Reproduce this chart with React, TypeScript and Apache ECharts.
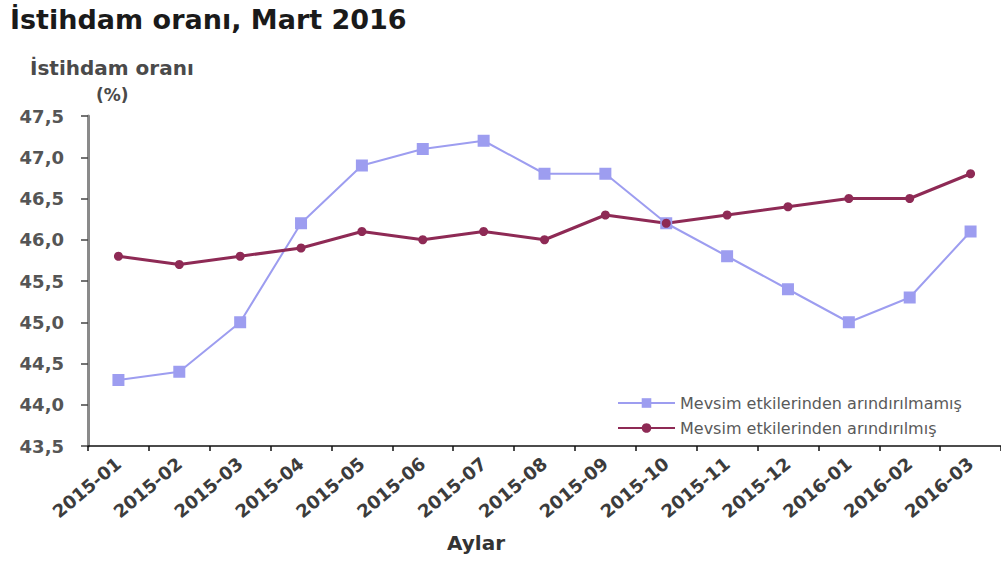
import React, { useEffect, useRef } from "react";
import * as echarts from "echarts";

const categories = ["2015-01","2015-02","2015-03","2015-04","2015-05","2015-06","2015-07","2015-08","2015-09","2015-10","2015-11","2015-12","2016-01","2016-02","2016-03"];
const unadjusted = [44.3, 44.4, 45.0, 46.2, 46.9, 47.1, 47.2, 46.8, 46.8, 46.2, 45.8, 45.4, 45.0, 45.3, 46.1];
const adjusted = [45.8, 45.7, 45.8, 45.9, 46.1, 46.0, 46.1, 46.0, 46.3, 46.2, 46.3, 46.4, 46.5, 46.5, 46.8];
const seriesNames = ["Mevsim etkilerinden arındırılmamış", "Mevsim etkilerinden arındırılmış"];

const FONT = "DejaVu Sans, Verdana, sans-serif";

export default function App() {
  const ref = useRef<HTMLDivElement>(null);
  useEffect(() => {
    if (!ref.current) return;
    const chart = echarts.init(ref.current, undefined, { renderer: "svg" });
    chart.setOption({
      animation: false,
      backgroundColor: "#ffffff",
      textStyle: { fontFamily: FONT },
      grid: { left: 88, top: 116, bottom: 118, right: -8, containLabel: false },
      graphic: [
        { type: "text", x: 10, y: 19, style: { text: "İstihdam oranı, Mart 2016", font: "bold 27px " + FONT, fill: "#1a1a1a", verticalAlign: "middle" } },
        { type: "text", x: 30, y: 68, style: { text: "İstihdam oranı", font: "bold 20px " + FONT, fill: "#4a4a4a", verticalAlign: "middle" } },
        { type: "text", x: 96, y: 95, style: { text: "(%)", font: "bold 17px " + FONT, fill: "#4a4a4a", verticalAlign: "middle" } },
        { type: "text", x: 476, y: 543, style: { text: "Aylar", font: "bold 20px " + FONT, fill: "#333", align: "center", verticalAlign: "middle" } },
      ],
      legend: {
        orient: "vertical",
        left: 612,
        top: 390,
        itemWidth: 57,
        itemHeight: 12,
        itemGap: 9,
        textStyle: { fontSize: 16, lineHeight: 14, color: "#5a5a5a", fontFamily: FONT },
        data: seriesNames,
      },
      xAxis: {
        type: "category",
        data: categories,
        boundaryGap: true,
        axisLine: { lineStyle: { color: "#111", width: 1.5 } },
        axisTick: { show: true, length: 5, lineStyle: { color: "#111", width: 1.5 } },
        axisLabel: { rotate: 40, interval: 0, fontSize: 18, fontWeight: "bold", color: "#3c3c3c", margin: 15, fontFamily: FONT },
      },
      yAxis: {
        type: "value",
        min: 43.5,
        max: 47.5,
        interval: 0.5,
        splitLine: { show: false },
        axisLine: { show: true, lineStyle: { color: "#8a8a8a", width: 3 } },
        axisTick: { show: true, length: 7, lineStyle: { color: "#444", width: 1.5 } },
        axisLabel: {
          fontSize: 18, fontWeight: "bold", color: "#555", margin: 24, fontFamily: FONT,
          formatter: (v: number) => v.toFixed(1).replace(".", ","),
        },
      },
      series: [
        {
          name: seriesNames[0],
          type: "line",
          data: unadjusted,
          symbol: "rect",
          symbolSize: 12,
          itemStyle: { color: "#9d9df0" },
          lineStyle: { color: "#9d9df0", width: 2 },
        },
        {
          name: seriesNames[1],
          type: "line",
          data: adjusted,
          symbol: "circle",
          symbolSize: 9,
          itemStyle: { color: "#8e2a55" },
          lineStyle: { color: "#8e2a55", width: 3 },
        },
      ],
    });
    return () => chart.dispose();
  }, []);
  return <div ref={ref} style={{ position: "fixed", left: 0, top: 0, width: 1001, height: 564 }} />;
}
